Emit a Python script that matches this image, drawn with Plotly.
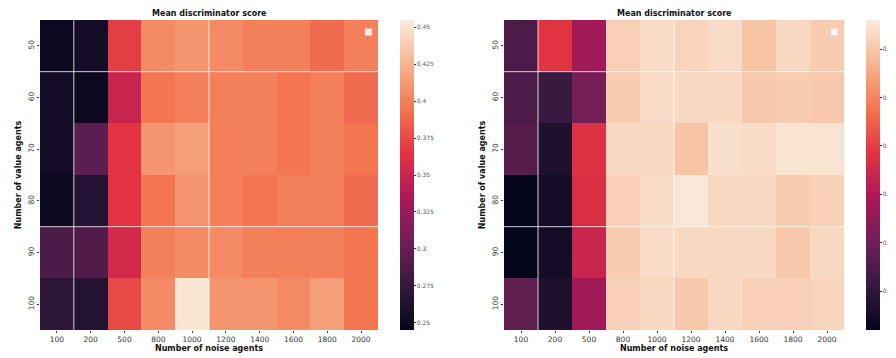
import plotly.graph_objects as go

noise_agents = ["100", "200", "500", "800", "1000", "1200", "1400", "1600", "1800", "2000"]
value_agents = ["50", "60", "70", "80", "90", "100"]

left_scores = [
    [0.250, 0.255, 0.370, 0.405, 0.410, 0.405, 0.400, 0.400, 0.390, 0.400],
    [0.255, 0.250, 0.350, 0.395, 0.400, 0.400, 0.400, 0.395, 0.400, 0.390],
    [0.255, 0.295, 0.365, 0.410, 0.415, 0.400, 0.400, 0.395, 0.400, 0.395],
    [0.250, 0.265, 0.365, 0.395, 0.410, 0.400, 0.395, 0.400, 0.400, 0.390],
    [0.285, 0.290, 0.355, 0.400, 0.405, 0.405, 0.400, 0.400, 0.400, 0.395],
    [0.270, 0.265, 0.375, 0.405, 0.452, 0.410, 0.410, 0.405, 0.415, 0.395],
]

right_scores = [
    [0.248, 0.485, 0.376, 0.715, 0.734, 0.722, 0.734, 0.696, 0.728, 0.709],
    [0.248, 0.216, 0.312, 0.709, 0.734, 0.728, 0.728, 0.702, 0.709, 0.702],
    [0.261, 0.171, 0.478, 0.728, 0.728, 0.696, 0.741, 0.734, 0.747, 0.747],
    [0.120, 0.152, 0.472, 0.715, 0.734, 0.754, 0.728, 0.728, 0.709, 0.715],
    [0.120, 0.152, 0.440, 0.709, 0.734, 0.728, 0.728, 0.728, 0.702, 0.728],
    [0.280, 0.171, 0.376, 0.715, 0.728, 0.702, 0.728, 0.715, 0.715, 0.722],
]

title_text = "Mean discriminator score"
x_title = "Number of noise agents"
y_title = "Number of value agents"

rocket = [
    [0.0, "#03051A"],
    [1/7, "#35193E"],
    [2/7, "#701F57"],
    [3/7, "#AD1759"],
    [4/7, "#E13342"],
    [5/7, "#F37651"],
    [6/7, "#F6B48F"],
    [1.0, "#FAEBDD"],
]

# page body has an 8px margin; figure is sized to fill the rest of the window
OFF = 8
W, H = 896 - OFF, 358 - OFF
top_px, bot_px = 20 - OFF, 330 - OFF
ydom = [1 - bot_px / H, 1 - top_px / H]
left_dom = [(40 - OFF) / W, (378 - OFF) / W]
right_dom = [(504 - OFF) / W, (844 - OFF) / W]

font_family = "DejaVu Sans"
tick_font = dict(family=font_family, size=7.5, color="#333333")
cb_tick_font = dict(family=font_family, size=6, color="#555555")

def colorbar(xpx, tickvals):
    return dict(
        x=(xpx - OFF) / W, xanchor="left", xref="paper", xpad=0, ypad=0,
        y=(ydom[0] + ydom[1]) / 2, yanchor="middle", yref="paper",
        len=(ydom[1] - ydom[0]), lenmode="fraction",
        thickness=14, outlinewidth=0,
        tickvals=tickvals, ticks="outside", ticklen=2, tickwidth=0.6,
        tickcolor="#333", tickfont=cb_tick_font,
    )

fig = go.Figure()
fig.add_trace(go.Heatmap(
    z=left_scores, x=noise_agents, y=value_agents,
    colorscale=rocket, zmin=0.245, zmax=0.455,
    colorbar=colorbar(400, [0.25, 0.275, 0.3, 0.325, 0.35, 0.375, 0.4, 0.425, 0.45]),
    xaxis="x", yaxis="y",
))
fig.add_trace(go.Heatmap(
    z=right_scores, x=noise_agents, y=value_agents,
    colorscale=rocket, zmin=0.12, zmax=0.76,
    colorbar=colorbar(866, [0.2, 0.3, 0.4, 0.5, 0.6, 0.7]),
    xaxis="x2", yaxis="y2",
))

axis_common = dict(
    showgrid=False, zeroline=False, showline=False, automargin=False,
    ticks="outside", ticklen=2, tickwidth=0.6, tickcolor="#333",
    tickfont=tick_font, type="category",
)
title_font = dict(family=font_family, size=8, color="#111")

fig.update_layout(
    width=W, height=H,
    margin=dict(l=0, r=0, t=0, b=0, autoexpand=False),
    paper_bgcolor="white", plot_bgcolor="white",
    xaxis=dict(domain=left_dom, anchor="y", **axis_common,
               title=dict(text="<b>" + x_title + "</b>", font=title_font, standoff=0)),
    yaxis=dict(domain=ydom, anchor="x", autorange="reversed", tickangle=-90, **axis_common,
               title=dict(text="<b>" + y_title + "</b>", font=title_font, standoff=4)),
    xaxis2=dict(domain=right_dom, anchor="y2", **axis_common,
                title=dict(text="<b>" + x_title + "</b>", font=title_font, standoff=0)),
    yaxis2=dict(domain=ydom, anchor="x2", autorange="reversed", tickangle=-90, **axis_common,
                title=dict(text="<b>" + y_title + "</b>", font=title_font, standoff=4)),
    showlegend=False,
)

for dom in (left_dom, right_dom):
    fig.add_annotation(
        text="<b>" + title_text + "</b>", x=(dom[0] + dom[1]) / 2, y=ydom[1],
        xref="paper", yref="paper", xanchor="center", yanchor="bottom",
        yshift=0, showarrow=False, font=dict(family=font_family, size=8, color="#111"),
    )

# faint white grid lines and empty legend boxes over each heatmap
for xa, ya in (("x", "y"), ("x2", "y2")):
    xr, yr = xa + " domain", ya + " domain"
    for fx in (0.1, 0.5):
        fig.add_shape(type="line", xref=xr, yref=yr, x0=fx, x1=fx, y0=0, y1=1,
                      line=dict(color="rgba(255,255,255,0.8)", width=1))
    for fy in (5 / 6, 2 / 6):
        fig.add_shape(type="line", xref=xr, yref=yr, x0=0, x1=1, y0=fy, y1=fy,
                      line=dict(color="rgba(255,255,255,0.8)", width=1))
    fig.add_shape(type="rect", xref=xr, yref=yr, x0=0.962, x1=0.982, y0=0.95, y1=0.972,
                  fillcolor="rgba(255,255,255,0.85)", line=dict(color="rgba(220,220,220,0.8)", width=0.5))

fig.write_html("out.html")
